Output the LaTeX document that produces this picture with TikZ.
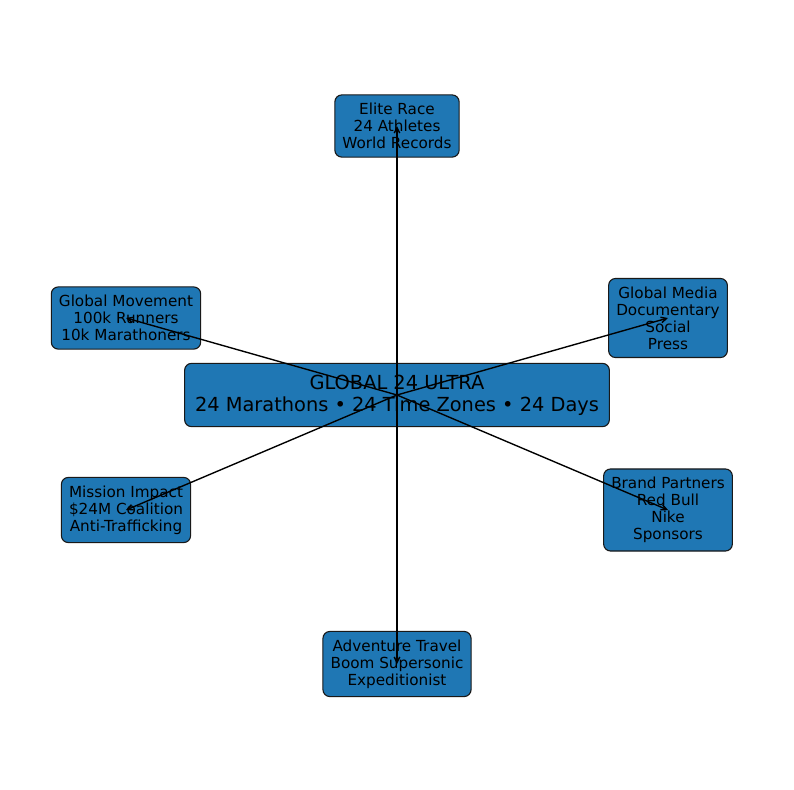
\documentclass[tikz,border=0pt]{standalone}
\usepackage{fontspec}
\setmainfont{DejaVu Sans}
\usepackage{xcolor}
\usepackage{tikz}
\usetikzlibrary{shapes, arrows.meta}
\definecolor{boxblue}{HTML}{1F77B4}
\tikzstyle{block} = [draw=black!90, line width=0.8pt, fill=boxblue, rounded corners=5pt, align=center, inner xsep=5.5pt, inner ysep=6pt, font=\fontsize{11}{12.2}\selectfont]
\tikzstyle{hub} = [block, inner xsep=7.5pt, inner ysep=8.3pt, font=\fontsize{14}{15.8}\selectfont]

\begin{document}
\begin{tikzpicture}[x=0.01in, y=-0.01in, line width=1pt, >={Straight Barb[length=4pt,width=4pt]}]
    \useasboundingbox (0,0) rectangle (794,790);

    % 放置节点
    \node [hub] (hub) at (397,395) {GLOBAL 24 ULTRA\\24 Marathons • 24 Time Zones • 24 Days};
    \node [block] (elite) at (397,126) {Elite Race\\24 Athletes\\World Records};
    \node [block] (movement) at (126,318) {Global Movement\\100k Runners\\10k Marathoners};
    \node [block] (media) at (668,318) {Global Media\\Documentary\\Social\\Press};
    \node [block] (mission) at (126,510) {Mission Impact\\\$24M Coalition\\Anti-Trafficking};
    \node [block] (brand) at (668,510) {Brand Partners\\Red Bull\\Nike\\Sponsors};
    \node [block] (travel) at (397,664) {Adventure Travel\\Boom Supersonic\\Expeditionist};

    % 连线
    \draw [->] (hub.center) -- (elite.center);
    \draw [->] (hub.center) -- (movement.center);
    \draw [->] (hub.center) -- (media.center);
    \draw [->] (hub.center) -- (mission.center);
    \draw [->] (hub.center) -- (brand.center);
    \draw [->] (hub.center) -- (travel.center);
\end{tikzpicture}
\end{document}
